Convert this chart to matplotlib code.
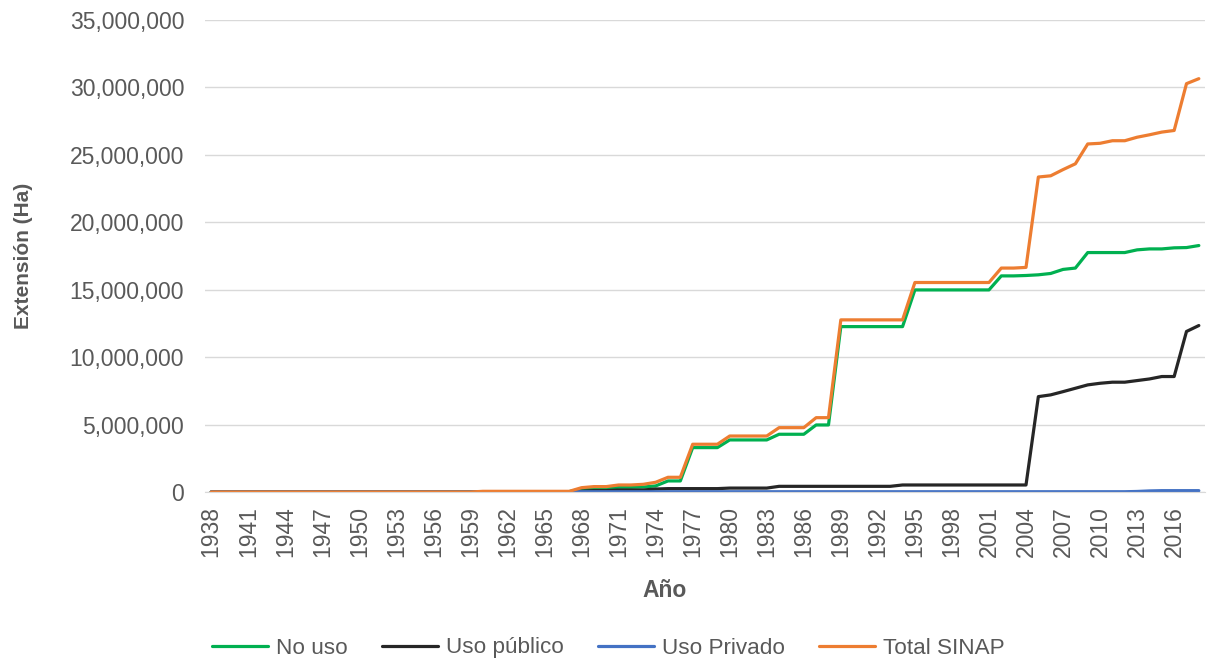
import numpy as np
import matplotlib.pyplot as plt
from matplotlib.ticker import FuncFormatter

years = list(range(1938, 2019))

# values in millions of hectares
no_uso = ([0.0] * 22 + [0.03] * 8 +
          [0.22, 0.27, 0.27, 0.35, 0.35, 0.37, 0.45, 0.82, 0.82,
           3.29, 3.29, 3.29, 3.86, 3.86, 3.86, 3.86, 4.28, 4.28, 4.28, 4.97, 4.97] +
          [12.26] * 6 + [14.98] * 7 +
          [16.02, 16.02, 16.05, 16.1, 16.2, 16.5, 16.6, 17.75, 17.75, 17.75, 17.75,
           17.95, 18.02, 18.02, 18.1, 18.12, 18.27])
uso_publico = ([0.0] * 22 + [0.01] * 8 +
               [0.06, 0.1, 0.1, 0.15, 0.15, 0.15, 0.22, 0.25, 0.25,
                0.25, 0.25, 0.25, 0.29, 0.29, 0.29, 0.29] +
               [0.42] * 10 + [0.52] * 11 +
               [7.07, 7.2, 7.44, 7.69, 7.94, 8.06, 8.14, 8.14, 8.26, 8.38,
                8.56, 8.56, 11.9, 12.34])
uso_privado = [0.0] * 22 + [0.02] * 53 + [0.04, 0.08] + [0.1] * 4
total_sinap = ([0.0] * 22 + [0.05] * 8 +
               [0.32, 0.4, 0.4, 0.52, 0.52, 0.57, 0.72, 1.09, 1.09,
                3.54, 3.54, 3.54, 4.15, 4.15, 4.15, 4.15, 4.77, 4.77, 4.77, 5.51, 5.51] +
               [12.76] * 6 + [15.53] * 7 +
               [16.6, 16.6, 16.65, 23.35, 23.44, 23.9, 24.33, 25.8, 25.85, 26.04, 26.04,
                26.3, 26.48, 26.68, 26.8, 30.27, 30.64])

series = [
    ("No uso", no_uso, "#00b050"),
    ("Uso público", uso_publico, "#262626"),
    ("Uso Privado", uso_privado, "#4472c4"),
    ("Total SINAP", total_sinap, "#ed7d31"),
]

plt.rcParams['font.family'] = ['Liberation Sans', 'DejaVu Sans']
grey = "#595959"

fig = plt.figure(figsize=(12.09, 6.62), dpi=100)
ax = fig.add_axes([0.1696, 0.2568, 0.8271, 0.7132])

for name, vals, col in series:
    ax.plot(years, np.array(vals) * 1e6, color=col, lw=2.3, label=name,
            solid_joinstyle='round', solid_capstyle='round')

ax.set_xlim(1937.5, 2018.5)
ax.set_ylim(0, 35e6)
ax.set_yticks(np.arange(0, 35e6 + 1, 5e6))
ax.yaxis.set_major_formatter(FuncFormatter(lambda v, p: "{:,.0f}".format(v)))
ax.set_xticks(years[::3])
ax.set_xticklabels([str(y) for y in years[::3]], rotation=90)

ax.grid(axis='y', color="#d9d9d9", lw=1)
ax.set_axisbelow(True)
for s in ['top', 'right', 'left']:
    ax.spines[s].set_visible(False)
ax.spines['bottom'].set_color("#d9d9d9")
ax.tick_params(axis='both', length=0, labelsize=16.5, colors=grey)
ax.tick_params(axis='y', pad=15)
ax.tick_params(axis='x', pad=10)

ax.set_ylabel("Extensión (Ha)", fontsize=15, fontweight='bold', color=grey)
ax.yaxis.set_label_coords(-0.172, 0.5)
ax.set_xlabel("Año", fontsize=16.5, fontweight='bold', color=grey)
ax.xaxis.label.set_va('center')
ax.xaxis.set_label_coords(0.46, -0.2076)

fig.legend(loc='center left', bbox_to_anchor=(0.1753, 1 - 648 / 662), ncol=4,
           frameon=False, borderpad=0, borderaxespad=0,
           fontsize=16.2, handlelength=2.5, handletextpad=0.36, columnspacing=1.5,
           labelcolor=grey)

plt.savefig('out.png', dpi=100)
